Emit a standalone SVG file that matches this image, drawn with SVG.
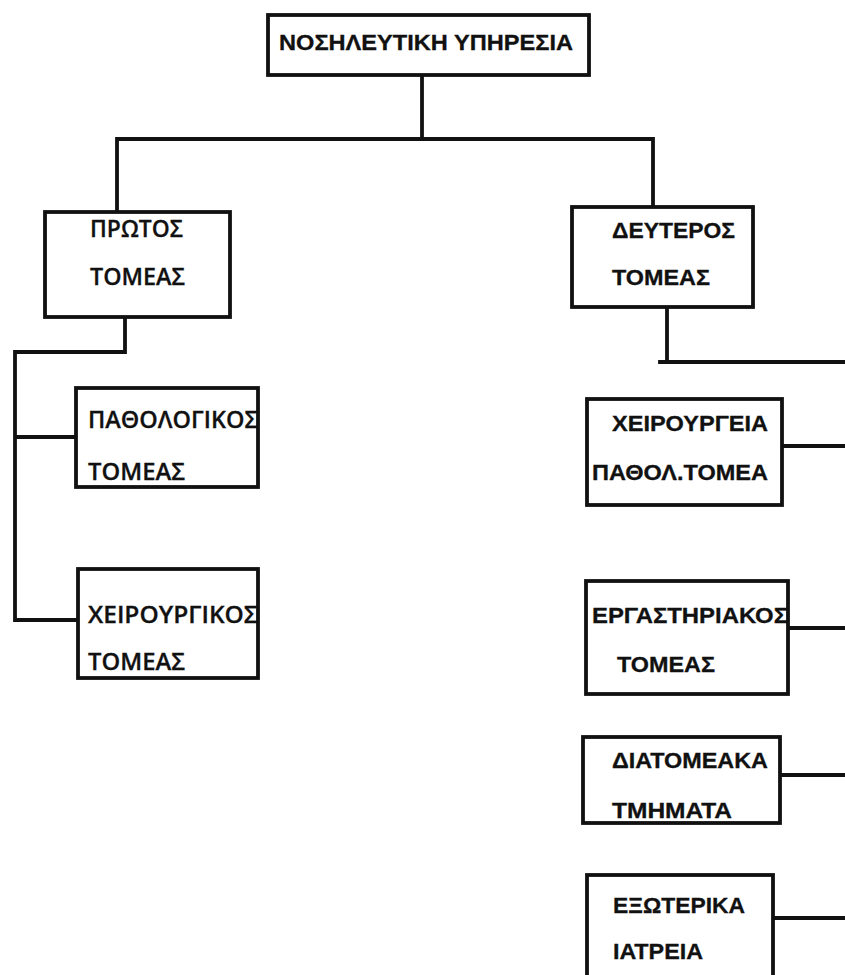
<svg xmlns="http://www.w3.org/2000/svg" width="845" height="975" viewBox="0 0 845 975">
<style>
.box{fill:#fff;stroke:#111;stroke-width:3.8}
.ln{fill:none;stroke:#111;stroke-width:3.8;stroke-linecap:square}
.a{font-family:"Liberation Sans",Arial,sans-serif;font-weight:bold;font-size:22px;fill:#111;stroke:#111;stroke-width:0.3}
.c{font-family:"Open Sans","Noto Sans",sans-serif;font-weight:600;font-size:24px;fill:#111;stroke:#111;stroke-width:0.3}
</style>
<rect width="845" height="975" fill="#fff"/>
<g id="connectors">
<path class="ln" d="M422,75V139M117,139H653M117,139V212M653,139V207"/>
<path class="ln" d="M125,317V352H15V620H78M15,437H76"/>
<path class="ln" d="M667,307V362M660,362H847"/>
<path class="ln" d="M782,446H847M788,628H847M780,775H847M773,918H847"/>
</g>
<g id="n-top">
<rect class="box" x="268" y="15" width="321" height="60"/>
<text class="a" x="279" y="50" font-size="25" textLength="294" lengthAdjust="spacingAndGlyphs">ΝΟΣΗΛΕΥΤΙΚΗ ΥΠΗΡΕΣΙΑ</text>
</g>
<g id="n-protos">
<rect class="box" x="45" y="212" width="185" height="105"/>
<text class="c" x="90" y="237" textLength="93" lengthAdjust="spacingAndGlyphs">ΠΡΩΤΟΣ</text>
<text class="c" x="90" y="285" textLength="95" lengthAdjust="spacingAndGlyphs">ΤΟΜΕΑΣ</text>
</g>
<g id="n-pathologikos">
<rect class="box" x="76" y="388" width="182" height="99"/>
<text class="c" x="88" y="428" textLength="170" lengthAdjust="spacingAndGlyphs">ΠΑΘΟΛΟΓΙΚΟΣ</text>
<text class="c" x="88" y="480" textLength="97" lengthAdjust="spacingAndGlyphs">ΤΟΜΕΑΣ</text>
</g>
<g id="n-xeirourgikos">
<rect class="box" x="78" y="569" width="180" height="109"/>
<text class="c" x="88" y="623" textLength="170" lengthAdjust="spacingAndGlyphs">ΧΕΙΡΟΥΡΓΙΚΟΣ</text>
<text class="c" x="88" y="670" textLength="97" lengthAdjust="spacingAndGlyphs">ΤΟΜΕΑΣ</text>
</g>
<g id="n-defteros">
<rect class="box" x="572" y="207" width="181" height="100"/>
<text class="a" x="612" y="238" textLength="123" lengthAdjust="spacingAndGlyphs">ΔΕΥΤΕΡΟΣ</text>
<text class="a" x="612" y="285" textLength="98" lengthAdjust="spacingAndGlyphs">ΤΟΜΕΑΣ</text>
</g>
<g id="n-xeirourgeia">
<rect class="box" x="587" y="399" width="195" height="106"/>
<text class="a" x="612" y="431" textLength="156" lengthAdjust="spacingAndGlyphs">ΧΕΙΡΟΥΡΓΕΙΑ</text>
<text class="a" x="592" y="480" textLength="176" lengthAdjust="spacingAndGlyphs">ΠΑΘΟΛ.ΤΟΜΕΑ</text>
</g>
<g id="n-ergastiriakos">
<rect class="box" x="586" y="581" width="202" height="113"/>
<text class="a" x="592" y="623" textLength="196" lengthAdjust="spacingAndGlyphs">ΕΡΓΑΣΤΗΡΙΑΚΟΣ</text>
<text class="a" x="617" y="672" textLength="98" lengthAdjust="spacingAndGlyphs">ΤΟΜΕΑΣ</text>
</g>
<g id="n-diatomeaka">
<rect class="box" x="583" y="737" width="197" height="86"/>
<text class="a" x="612" y="768" textLength="156" lengthAdjust="spacingAndGlyphs">ΔΙΑΤΟΜΕΑΚΑ</text>
<text class="a" x="612" y="818" textLength="120" lengthAdjust="spacingAndGlyphs">ΤΜΗΜΑΤΑ</text>
</g>
<g id="n-exoterika">
<rect class="box" x="587" y="875" width="186" height="105"/>
<text class="a" x="613" y="913" textLength="132" lengthAdjust="spacingAndGlyphs">ΕΞΩΤΕΡΙΚΑ</text>
<text class="a" x="613" y="959" textLength="90" lengthAdjust="spacingAndGlyphs">ΙΑΤΡΕΙΑ</text>
</g>
</svg>
